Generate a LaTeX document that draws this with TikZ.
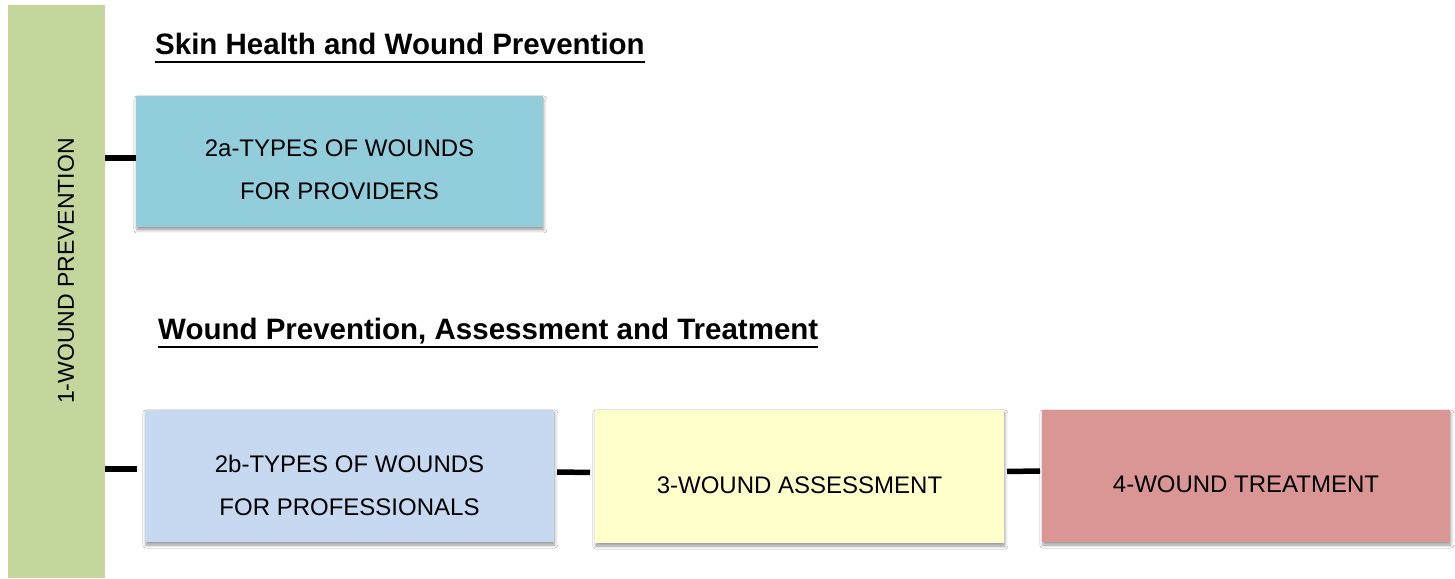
\documentclass[tikz,border=0pt]{standalone}
\usepackage{fontspec}
\setmainfont{Liberation Sans}
\newfontfamily\boxfont{Liberation Sans}
\usetikzlibrary{shadows.blur}
\definecolor{cbar}{HTML}{C3D69B}
\definecolor{ctwoa}{HTML}{92CDDC}
\definecolor{ctwob}{HTML}{C6D9F0}
\definecolor{cthree}{HTML}{FFFFCC}
\definecolor{cfour}{HTML}{D99694}
\begin{document}
\begin{tikzpicture}[x=1pt,y=1pt,
  boxnode/.style={draw=none, rectangle, inner sep=0pt, outer sep=0pt,
    blur shadow={shadow xshift=0.8pt, shadow yshift=-3pt, shadow blur radius=3pt, shadow opacity=40}},
  txt/.style={inner sep=0pt, align=center, font=\boxfont\fontsize{24}{43}\selectfont},
  title/.style={inner sep=0pt, anchor=base west, font=\bfseries\fontsize{29.5}{34}\selectfont},
  conn/.style={line width=5.5pt, black},
  uline/.style={line width=2.5pt, black}]
\useasboundingbox (0,0) rectangle (1455,578);
\fill[white] (0,0) rectangle (1455,578);
% left bar
\node[rectangle, fill=cbar, inner sep=0pt, minimum width=97pt, minimum height=573pt] (bar) at (56.5,286.5) {};
\node[txt, rotate=90, font=\boxfont\fontsize{23}{28}\selectfont] (tbar) at (66,307) {1-WOUND PREVENTION};
% titles
\node[title] (t1) at (155,523) {Skin Health and Wound Prevention};
\draw[uline] ([yshift=-7pt]t1.base west) -- ([yshift=-7pt]t1.base east);
\node[title] (t2) at (158,238) {Wound Prevention, Assessment and Treatment};
\draw[uline] ([yshift=-7pt]t2.base west) -- ([yshift=-7pt]t2.base east);
% boxes
\node[boxnode, fill=ctwoa, minimum width=407pt, minimum height=131pt] (b2a) at (339.5,416.5) {};
\node[txt] (t2a) at (339.5,408.5) {2a-TYPES OF WOUNDS\\FOR PROVIDERS};
\node[boxnode, fill=ctwob, minimum width=409pt, minimum height=132pt] (b2b) at (349.5,102) {};
\node[txt] (t2b) at (349.5,93) {2b-TYPES OF WOUNDS\\FOR PROFESSIONALS};
\node[boxnode, fill=cthree, minimum width=409pt, minimum height=133pt] (b3) at (799.5,101.5) {};
\node[txt] (t3) at (799.5,93) {3-WOUND ASSESSMENT};
\node[boxnode, fill=cfour, minimum width=408pt, minimum height=132pt] (b4) at (1246,102) {};
\node[txt] (t4) at (1246,94) {4-WOUND TREATMENT};
% connectors
\coordinate (c2a) at ([yshift=3.5pt]b2a.west);
\coordinate (c2b) at ([xshift=-8pt,yshift=7pt]b2b.west);
\draw[conn] (bar.east |- c2a) -- (c2a);
\draw[conn] (bar.east |- c2b) -- (c2b);
\draw[conn] ([xshift=3pt,yshift=4pt]b2b.east) -- ([xshift=-5pt,yshift=4pt]b3.west);
\draw[conn] ([xshift=3pt,yshift=5pt]b3.east) -- ([xshift=-2pt,yshift=5pt]b4.west);
\end{tikzpicture}
\end{document}
